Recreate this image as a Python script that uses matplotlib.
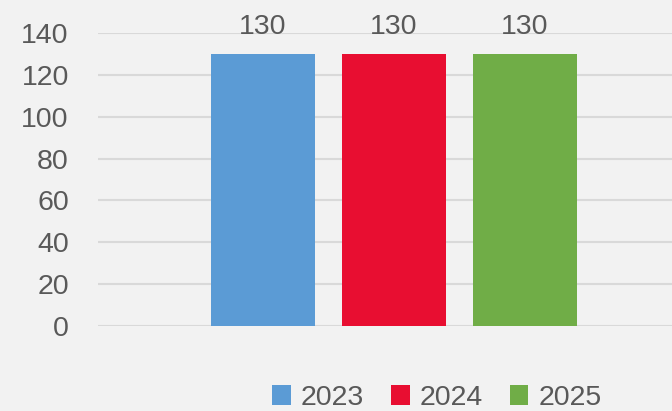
import matplotlib.pyplot as plt

# data
series = ["2023", "2024", "2025"]
values = [130, 130, 130]
colors = ["#5b9bd5", "#e80e31", "#70ad47"]
yticks = [0, 20, 40, 60, 80, 100, 120, 140]

text_color = "#595959"
bg = "#f2f2f2"
plt.rcParams['font.family'] = ['Liberation Sans', 'DejaVu Sans']

fig = plt.figure(figsize=(6.72, 4.11), dpi=100, facecolor=bg)
ax = fig.add_axes([98 / 672, 1 - 326 / 411, 1 - 98 / 672, (326 - 33) / 411])
ax.set_facecolor(bg)

x = list(range(len(series)))
bars = ax.bar(x, values, width=104 / 131, color=colors, label=series, zorder=3)
ax.bar_label(bars, labels=[str(v) for v in values], padding=10, fontsize=20.5,
             color=text_color, clip_on=False)

ax.set_xlim(1 - 296 / 131, 1 + 278 / 131)
ax.set_ylim(0, 140)
ax.set_yticks(yticks)
ax.set_xticks([])
ax.tick_params(axis='y', length=0, pad=21, labelsize=20.5, labelcolor=text_color)
ax.grid(axis='y', color="#d9d9d9", linewidth=1.5, zorder=0)
for s in ax.spines.values():
    s.set_visible(False)

fig.legend(handles=bars.patches, labels=series, loc='center',
           bbox_to_anchor=(437 / 672, 1 - 398 / 411), ncol=3, frameon=False,
           fontsize=20.5, labelcolor=text_color, handlelength=0.65, handleheight=0.65,
           handletextpad=0.35, columnspacing=0.95, borderpad=0)

fig.savefig("out.png", dpi=100, facecolor=bg)
